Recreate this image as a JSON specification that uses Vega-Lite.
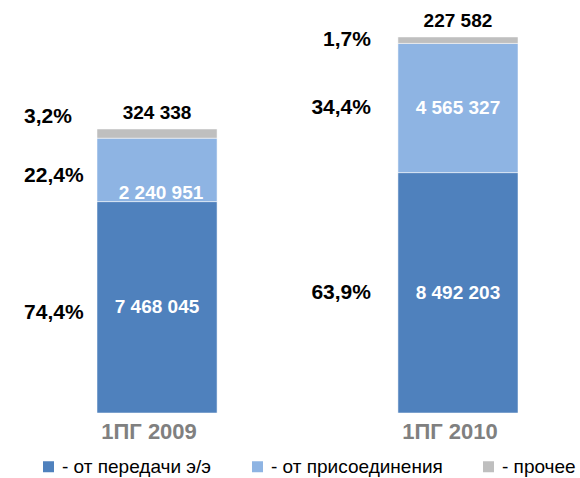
{
  "$schema": "https://vega.github.io/schema/vega-lite/v6.json",
  "width": 421,
  "height": 413,
  "autosize": {"type": "none"},
  "padding": {"left": 97, "right": 62, "top": 0, "bottom": 65},
  "background": "white",
  "config": {
    "locale": {"number": {"decimal": ",", "thousands": "\u00a0", "grouping": [3], "currency": ["", ""]}},
    "view": {"stroke": null},
    "font": "Liberation Sans"
  },
  "data": {
    "values": [
      {"period": "1ПГ 2009", "category": "- от передачи э/э", "order": 1, "value": 7468045, "pct": 0.744},
      {"period": "1ПГ 2009", "category": "- от присоединения", "order": 2, "value": 2240951, "pct": 0.224},
      {"period": "1ПГ 2009", "category": "- прочее", "order": 3, "value": 324338, "pct": 0.032},
      {"period": "1ПГ 2010", "category": "- от передачи э/э", "order": 1, "value": 8492203, "pct": 0.639},
      {"period": "1ПГ 2010", "category": "- от присоединения", "order": 2, "value": 4565327, "pct": 0.344},
      {"period": "1ПГ 2010", "category": "- прочее", "order": 3, "value": 227582, "pct": 0.017}
    ]
  },
  "transform": [
    {"stack": "value", "groupby": ["period"], "sort": [{"field": "order", "order": "ascending"}], "as": ["v0", "v1"]},
    {"calculate": "(datum.v0 + datum.v1) / 2", "as": "mid"}
  ],
  "encoding": {
    "x": {
      "field": "period",
      "type": "nominal",
      "scale": {"paddingInner": 0.601, "paddingOuter": 0},
      "axis": {
        "title": null, "labelAngle": 0, "ticks": false, "domain": false,
        "labelFontSize": 22, "labelFontWeight": "bold", "labelColor": "#808080",
        "labelPadding": 8, "labelOffset": -8
      }
    }
  },
  "layer": [
    {
      "mark": {"type": "bar", "stroke": "white", "strokeWidth": 0.5},
      "encoding": {
        "y": {"field": "v1", "type": "quantitative", "scale": {"domain": [0, 14590000], "nice": false, "zero": true}, "axis": null},
        "y2": {"field": "v0"},
        "color": {
          "field": "category",
          "type": "nominal",
          "scale": {
            "domain": ["- от передачи э/э", "- от присоединения", "- прочее"],
            "range": ["#4F81BD", "#8EB4E3", "#BFBFBF"]
          },
          "legend": {
            "title": null, "orient": "none", "legendX": -58, "legendY": 457,
            "direction": "horizontal", "symbolType": "square", "symbolSize": 121,
            "symbolStrokeWidth": 0, "labelFontSize": 19, "labelColor": "#000000",
            "columnPadding": 36, "labelOffset": 4, "labelLimit": 300
          }
        }
      }
    },
    {
      "transform": [{"filter": "datum.category !== '- прочее' && !(datum.period === '1ПГ 2009' && datum.category === '- от присоединения')"}],
      "mark": {"type": "text", "fontSize": 19, "fontWeight": "bold", "color": "white", "baseline": "middle"},
      "encoding": {
        "y": {"field": "mid", "type": "quantitative"},
        "text": {"field": "value", "type": "quantitative", "format": ",d"}
      }
    },
    {
      "transform": [{"filter": "datum.period === '1ПГ 2009' && datum.category === '- от присоединения'"}],
      "mark": {"type": "text", "fontSize": 19, "fontWeight": "bold", "color": "white", "baseline": "middle", "dy": 23, "dx": 4},
      "encoding": {
        "y": {"field": "mid", "type": "quantitative"},
        "text": {"field": "value", "type": "quantitative", "format": ",d"}
      }
    },
    {
      "transform": [{"filter": "datum.category === '- прочее'"}],
      "mark": {"type": "text", "fontSize": 19, "fontWeight": "bold", "color": "black", "baseline": "middle", "dy": -16},
      "encoding": {
        "y": {"field": "v1", "type": "quantitative"},
        "text": {"field": "value", "type": "quantitative", "format": ",d"}
      }
    },
    {
      "transform": [{"filter": "datum.period === '1ПГ 2009' && datum.category !== '- прочее'"}],
      "mark": {"type": "text", "fontSize": 21, "fontWeight": "bold", "color": "black", "baseline": "middle", "align": "left", "dx": -133, "dy": 6},
      "encoding": {
        "y": {"field": "mid", "type": "quantitative"},
        "text": {"field": "pct", "type": "quantitative", "format": ".1%"}
      }
    },
    {
      "transform": [{"filter": "datum.period === '1ПГ 2009' && datum.category === '- прочее'"}],
      "mark": {"type": "text", "fontSize": 21, "fontWeight": "bold", "color": "black", "baseline": "middle", "align": "left", "dx": -133, "dy": -12},
      "encoding": {
        "y": {"field": "v1", "type": "quantitative"},
        "text": {"field": "pct", "type": "quantitative", "format": ".1%"}
      }
    },
    {
      "transform": [{"filter": "datum.period === '1ПГ 2010'"}],
      "mark": {"type": "text", "fontSize": 21, "fontWeight": "bold", "color": "black", "baseline": "middle", "align": "right", "dx": -87},
      "encoding": {
        "y": {"field": "mid", "type": "quantitative"},
        "text": {"field": "pct", "type": "quantitative", "format": ".1%"}
      }
    }
  ]
}
